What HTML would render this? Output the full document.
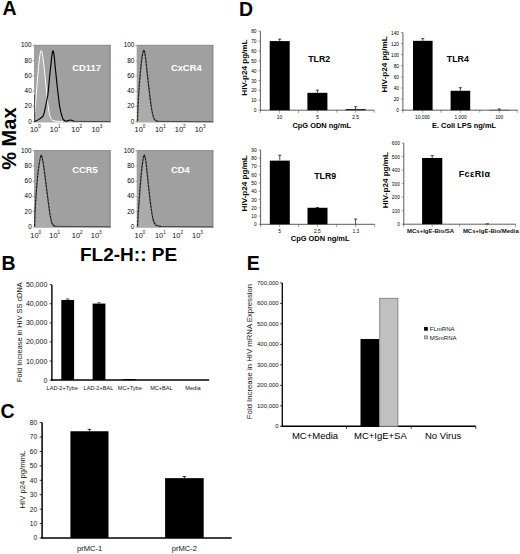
<!DOCTYPE html><html><head><meta charset="utf-8"><style>html,body{margin:0;padding:0;background:#fff;width:520px;height:554px;overflow:hidden}svg{display:block;font-family:"Liberation Sans",sans-serif}</style></head><body>
<svg width="520" height="554" viewBox="0 0 520 554">
<rect x="0" y="0" width="520" height="554" fill="#fff"/>
<text x="2.6" y="14.8" font-size="19.5" font-weight="bold" fill="#000">A</text>
<text x="1.6" y="269.8" font-size="19.5" font-weight="bold" fill="#000">B</text>
<text x="0.4" y="418" font-size="19.5" font-weight="bold" fill="#000">C</text>
<text x="239" y="15.6" font-size="19.5" font-weight="bold" fill="#000">D</text>
<text x="246.8" y="270.2" font-size="19.5" font-weight="bold" fill="#000">E</text>
<rect x="34" y="44.9" width="76.6" height="77.5" fill="#a0a0a0"/>
<line x1="34" y1="45.4" x2="110.6" y2="45.4" stroke="#8e8e8e" stroke-width="1"/>
<line x1="110" y1="44.9" x2="110" y2="122.4" stroke="#8a8a8a" stroke-width="1.2"/>
<text x="31.7" y="47.3" font-size="6.4" text-anchor="end" fill="#000">100</text>
<line x1="32.8" y1="45.4" x2="34" y2="45.4" stroke="#333" stroke-width="0.5"/>
<text x="31.7" y="62.58" font-size="6.4" text-anchor="end" fill="#000">80</text>
<line x1="32.8" y1="60.68" x2="34" y2="60.68" stroke="#333" stroke-width="0.5"/>
<text x="31.7" y="77.86" font-size="6.4" text-anchor="end" fill="#000">60</text>
<line x1="32.8" y1="75.96" x2="34" y2="75.96" stroke="#333" stroke-width="0.5"/>
<text x="31.7" y="93.14" font-size="6.4" text-anchor="end" fill="#000">40</text>
<line x1="32.8" y1="91.24" x2="34" y2="91.24" stroke="#333" stroke-width="0.5"/>
<text x="31.7" y="108.42" font-size="6.4" text-anchor="end" fill="#000">20</text>
<line x1="32.8" y1="106.52" x2="34" y2="106.52" stroke="#333" stroke-width="0.5"/>
<text x="31.7" y="123.7" font-size="6.4" text-anchor="end" fill="#000">0</text>
<line x1="32.8" y1="121.8" x2="34" y2="121.8" stroke="#333" stroke-width="0.5"/>
<text x="30" y="131.9" font-size="7.4" fill="#111">10<tspan font-size="4.6" dy="-3.6">0</tspan></text>
<text x="49.8" y="131.9" font-size="7.4" fill="#111">10<tspan font-size="4.6" dy="-3.6">1</tspan></text>
<text x="71.3" y="131.9" font-size="7.4" fill="#111">10<tspan font-size="4.6" dy="-3.6">2</tspan></text>
<text x="91.5" y="131.9" font-size="7.4" fill="#111">10<tspan font-size="4.6" dy="-3.6">3</tspan></text>
<text x="72.2" y="71.4" font-size="9.4" font-weight="bold" fill="#fff">CD117</text>
<rect x="136.7" y="44.9" width="76.6" height="77.5" fill="#a0a0a0"/>
<line x1="136.7" y1="45.4" x2="213.3" y2="45.4" stroke="#8e8e8e" stroke-width="1"/>
<line x1="212.7" y1="44.9" x2="212.7" y2="122.4" stroke="#8a8a8a" stroke-width="1.2"/>
<text x="134.4" y="47.3" font-size="6.4" text-anchor="end" fill="#000">100</text>
<line x1="135.5" y1="45.4" x2="136.7" y2="45.4" stroke="#333" stroke-width="0.5"/>
<text x="134.4" y="62.58" font-size="6.4" text-anchor="end" fill="#000">80</text>
<line x1="135.5" y1="60.68" x2="136.7" y2="60.68" stroke="#333" stroke-width="0.5"/>
<text x="134.4" y="77.86" font-size="6.4" text-anchor="end" fill="#000">60</text>
<line x1="135.5" y1="75.96" x2="136.7" y2="75.96" stroke="#333" stroke-width="0.5"/>
<text x="134.4" y="93.14" font-size="6.4" text-anchor="end" fill="#000">40</text>
<line x1="135.5" y1="91.24" x2="136.7" y2="91.24" stroke="#333" stroke-width="0.5"/>
<text x="134.4" y="108.42" font-size="6.4" text-anchor="end" fill="#000">20</text>
<line x1="135.5" y1="106.52" x2="136.7" y2="106.52" stroke="#333" stroke-width="0.5"/>
<text x="134.4" y="123.7" font-size="6.4" text-anchor="end" fill="#000">0</text>
<line x1="135.5" y1="121.8" x2="136.7" y2="121.8" stroke="#333" stroke-width="0.5"/>
<text x="134.6" y="131.9" font-size="7.4" fill="#111">10<tspan font-size="4.6" dy="-3.6">0</tspan></text>
<text x="154.9" y="131.9" font-size="7.4" fill="#111">10<tspan font-size="4.6" dy="-3.6">1</tspan></text>
<text x="174.8" y="131.9" font-size="7.4" fill="#111">10<tspan font-size="4.6" dy="-3.6">2</tspan></text>
<text x="194.7" y="131.9" font-size="7.4" fill="#111">10<tspan font-size="4.6" dy="-3.6">3</tspan></text>
<text x="170.9" y="71.4" font-size="9.4" font-weight="bold" fill="#fff">CxCR4</text>
<rect x="34" y="150.2" width="76.6" height="77.5" fill="#a0a0a0"/>
<line x1="34" y1="150.7" x2="110.6" y2="150.7" stroke="#8e8e8e" stroke-width="1"/>
<line x1="110" y1="150.2" x2="110" y2="227.7" stroke="#8a8a8a" stroke-width="1.2"/>
<text x="31.7" y="152.6" font-size="6.4" text-anchor="end" fill="#000">100</text>
<line x1="32.8" y1="150.7" x2="34" y2="150.7" stroke="#333" stroke-width="0.5"/>
<text x="31.7" y="167.88" font-size="6.4" text-anchor="end" fill="#000">80</text>
<line x1="32.8" y1="165.98" x2="34" y2="165.98" stroke="#333" stroke-width="0.5"/>
<text x="31.7" y="183.16" font-size="6.4" text-anchor="end" fill="#000">60</text>
<line x1="32.8" y1="181.26" x2="34" y2="181.26" stroke="#333" stroke-width="0.5"/>
<text x="31.7" y="198.44" font-size="6.4" text-anchor="end" fill="#000">40</text>
<line x1="32.8" y1="196.54" x2="34" y2="196.54" stroke="#333" stroke-width="0.5"/>
<text x="31.7" y="213.72" font-size="6.4" text-anchor="end" fill="#000">20</text>
<line x1="32.8" y1="211.82" x2="34" y2="211.82" stroke="#333" stroke-width="0.5"/>
<text x="31.7" y="229" font-size="6.4" text-anchor="end" fill="#000">0</text>
<line x1="32.8" y1="227.1" x2="34" y2="227.1" stroke="#333" stroke-width="0.5"/>
<text x="30.3" y="237.8" font-size="7.4" fill="#111">10<tspan font-size="4.6" dy="-3.6">0</tspan></text>
<text x="49.3" y="237.8" font-size="7.4" fill="#111">10<tspan font-size="4.6" dy="-3.6">1</tspan></text>
<text x="71.8" y="237.8" font-size="7.4" fill="#111">10<tspan font-size="4.6" dy="-3.6">2</tspan></text>
<text x="90.8" y="237.8" font-size="7.4" fill="#111">10<tspan font-size="4.6" dy="-3.6">3</tspan></text>
<text x="72.2" y="173.1" font-size="9.4" font-weight="bold" fill="#fff">CCR5</text>
<rect x="136.7" y="150.2" width="76.6" height="77.5" fill="#a0a0a0"/>
<line x1="136.7" y1="150.7" x2="213.3" y2="150.7" stroke="#8e8e8e" stroke-width="1"/>
<line x1="212.7" y1="150.2" x2="212.7" y2="227.7" stroke="#8a8a8a" stroke-width="1.2"/>
<text x="134.4" y="152.6" font-size="6.4" text-anchor="end" fill="#000">100</text>
<line x1="135.5" y1="150.7" x2="136.7" y2="150.7" stroke="#333" stroke-width="0.5"/>
<text x="134.4" y="167.88" font-size="6.4" text-anchor="end" fill="#000">80</text>
<line x1="135.5" y1="165.98" x2="136.7" y2="165.98" stroke="#333" stroke-width="0.5"/>
<text x="134.4" y="183.16" font-size="6.4" text-anchor="end" fill="#000">60</text>
<line x1="135.5" y1="181.26" x2="136.7" y2="181.26" stroke="#333" stroke-width="0.5"/>
<text x="134.4" y="198.44" font-size="6.4" text-anchor="end" fill="#000">40</text>
<line x1="135.5" y1="196.54" x2="136.7" y2="196.54" stroke="#333" stroke-width="0.5"/>
<text x="134.4" y="213.72" font-size="6.4" text-anchor="end" fill="#000">20</text>
<line x1="135.5" y1="211.82" x2="136.7" y2="211.82" stroke="#333" stroke-width="0.5"/>
<text x="134.4" y="229" font-size="6.4" text-anchor="end" fill="#000">0</text>
<line x1="135.5" y1="227.1" x2="136.7" y2="227.1" stroke="#333" stroke-width="0.5"/>
<text x="134.6" y="237.8" font-size="7.4" fill="#111">10<tspan font-size="4.6" dy="-3.6">0</tspan></text>
<text x="154.9" y="237.8" font-size="7.4" fill="#111">10<tspan font-size="4.6" dy="-3.6">1</tspan></text>
<text x="172.2" y="237.8" font-size="7.4" fill="#111">10<tspan font-size="4.6" dy="-3.6">2</tspan></text>
<text x="192.1" y="237.8" font-size="7.4" fill="#111">10<tspan font-size="4.6" dy="-3.6">3</tspan></text>
<text x="170.9" y="172.6" font-size="9.4" font-weight="bold" fill="#fff">CD4</text>
<path d="M137.4 121.8C137.48 119.83 137.72 114.13 137.9 110C138.08 105.87 138.25 101.33 138.5 97C138.75 92.67 139.07 88.33 139.4 84C139.73 79.67 140.12 75 140.5 71C140.88 67 141.32 62.92 141.7 60C142.08 57.08 142.52 55 142.8 53.5C143.08 52 143.22 51.55 143.4 51C143.58 50.45 143.73 50.17 143.9 50.2C144.07 50.23 144.2 50.4 144.4 51.2C144.6 52 144.83 53.2 145.1 55C145.37 56.8 145.67 59.17 146 62C146.33 64.83 146.72 68.5 147.1 72C147.48 75.5 147.88 79.33 148.3 83C148.72 86.67 149.15 90.33 149.6 94C150.05 97.67 150.52 101.75 151 105C151.48 108.25 152 111.2 152.5 113.5C153 115.8 153.45 117.58 154 118.8C154.55 120.02 155.05 120.37 155.8 120.8C156.55 121.23 158.05 121.3 158.5 121.4 L158.5 122.2 L137.4 122.2 Z" fill="#b6b6b6" opacity="0.5"/>
<path d="M34.6 226.9C34.67 224.75 34.82 218.32 35 214C35.18 209.68 35.43 205.33 35.7 201C35.97 196.67 36.27 192.17 36.6 188C36.93 183.83 37.32 179.67 37.7 176C38.08 172.33 38.5 168.83 38.9 166C39.3 163.17 39.78 160.63 40.1 159C40.42 157.37 40.6 156.87 40.8 156.2C41 155.53 41.13 154.97 41.3 155C41.47 155.03 41.58 155.57 41.8 156.4C42.02 157.23 42.27 158.23 42.6 160C42.93 161.77 43.38 164.17 43.8 167C44.22 169.83 44.65 173.5 45.1 177C45.55 180.5 46.03 184.33 46.5 188C46.97 191.67 47.45 195.5 47.9 199C48.35 202.5 48.77 205.92 49.2 209C49.63 212.08 50.07 215.2 50.5 217.5C50.93 219.8 51.32 221.47 51.8 222.8C52.28 224.13 52.7 224.9 53.4 225.5C54.1 226.1 55.57 226.25 56 226.4 L56 227.4 L34.6 227.4 Z" fill="#b6b6b6" opacity="0.5"/>
<path d="M137.5 226.9C137.62 224.75 137.92 218.48 138.2 214C138.48 209.52 138.85 204.67 139.2 200C139.55 195.33 139.95 190.33 140.3 186C140.65 181.67 140.97 177.5 141.3 174C141.63 170.5 141.98 167.5 142.3 165C142.62 162.5 142.95 160.5 143.2 159C143.45 157.5 143.62 156.7 143.8 156C143.98 155.3 144.13 154.77 144.3 154.8C144.47 154.83 144.6 155.42 144.8 156.2C145 156.98 145.22 157.7 145.5 159.5C145.78 161.3 146.15 164 146.5 167C146.85 170 147.2 173.67 147.6 177.5C148 181.33 148.45 185.92 148.9 190C149.35 194.08 149.83 198.33 150.3 202C150.77 205.67 151.23 209.08 151.7 212C152.17 214.92 152.6 217.57 153.1 219.5C153.6 221.43 154.05 222.55 154.7 223.6C155.35 224.65 155.95 225.32 157 225.8C158.05 226.28 160.33 226.38 161 226.5 L161 227.4 L137.5 227.4 Z" fill="#b6b6b6" opacity="0.5"/>
<path d="M34.8 112C35 109.67 35.57 103.33 36 98C36.43 92.67 36.93 85.67 37.4 80C37.87 74.33 38.33 68.42 38.8 64C39.27 59.58 39.8 55.73 40.2 53.5C40.6 51.27 40.87 50.68 41.2 50.6C41.53 50.52 41.83 51.27 42.2 53C42.57 54.73 42.98 57.67 43.4 61C43.82 64.33 44.27 68.83 44.7 73C45.13 77.17 45.57 81.67 46 86C46.43 90.33 46.87 95.17 47.3 99C47.73 102.83 48.15 106.17 48.6 109C49.05 111.83 49.47 114.23 50 116C50.53 117.77 51.13 118.8 51.8 119.6C52.47 120.4 52.97 120.52 54 120.8C55.03 121.08 56.5 121.17 58 121.3C59.5 121.43 62.17 121.55 63 121.6 L34.4 122 Z" fill="#b8b8b8" opacity="0.55"/>
<path d="M34.8 112C35 109.67 35.57 103.33 36 98C36.43 92.67 36.93 85.67 37.4 80C37.87 74.33 38.33 68.42 38.8 64C39.27 59.58 39.8 55.73 40.2 53.5C40.6 51.27 40.87 50.68 41.2 50.6C41.53 50.52 41.83 51.27 42.2 53C42.57 54.73 42.98 57.67 43.4 61C43.82 64.33 44.27 68.83 44.7 73C45.13 77.17 45.57 81.67 46 86C46.43 90.33 46.87 95.17 47.3 99C47.73 102.83 48.15 106.17 48.6 109C49.05 111.83 49.47 114.23 50 116C50.53 117.77 51.13 118.8 51.8 119.6C52.47 120.4 52.97 120.52 54 120.8C55.03 121.08 56.5 121.17 58 121.3C59.5 121.43 62.17 121.55 63 121.6" fill="none" stroke="#fff" stroke-width="1.0" stroke-linejoin="round"/>
<line x1="34.6" y1="95" x2="34.6" y2="121.6" stroke="#333" stroke-width="0.8"/>
<path d="M34.6 121.6C34.92 121.47 35.73 121.22 36.5 120.8C37.27 120.38 38.37 119.65 39.2 119.1C40.03 118.55 40.77 118.22 41.5 117.5C42.23 116.78 42.9 116.72 43.6 114.8C44.3 112.88 45.12 108.63 45.7 106C46.28 103.37 46.73 100.92 47.1 99C47.47 97.08 47.63 96.58 47.9 94.5C48.17 92.42 48.47 88.9 48.7 86.5C48.93 84.1 49.07 82.52 49.3 80.1C49.53 77.68 49.85 74.4 50.1 72C50.35 69.6 50.53 68.2 50.8 65.7C51.07 63.2 51.43 59.23 51.7 57C51.97 54.77 52.2 53.32 52.4 52.3C52.6 51.28 52.72 50.95 52.9 50.9C53.08 50.85 53.27 50.98 53.5 52C53.73 53.02 54.03 54.72 54.3 57C54.57 59.28 54.78 62.45 55.1 65.7C55.42 68.95 55.83 72.9 56.2 76.5C56.57 80.1 56.93 83.97 57.3 87.3C57.67 90.63 58.05 93.62 58.4 96.5C58.75 99.38 59.05 102.27 59.4 104.6C59.75 106.93 60.13 108.8 60.5 110.5C60.87 112.2 61.18 113.37 61.6 114.8C62.02 116.23 62.47 118.12 63 119.1C63.53 120.08 64.18 120.37 64.8 120.7C65.42 121.03 66.08 121.12 66.7 121.1C67.32 121.08 67.9 120.78 68.5 120.6C69.1 120.42 69.72 120.02 70.3 120C70.88 119.98 71.38 120.3 72 120.5C72.62 120.7 73.67 121.08 74 121.2" fill="none" stroke="#000" stroke-width="1.15" stroke-linejoin="round"/>
<line x1="74" y1="121.4" x2="110.2" y2="121.6" stroke="#3a3a3a" stroke-width="0.9"/>
<path d="M137.4 121.8C137.48 119.83 137.72 114.13 137.9 110C138.08 105.87 138.25 101.33 138.5 97C138.75 92.67 139.07 88.33 139.4 84C139.73 79.67 140.12 75 140.5 71C140.88 67 141.32 62.92 141.7 60C142.08 57.08 142.52 55 142.8 53.5C143.08 52 143.22 51.55 143.4 51C143.58 50.45 143.73 50.17 143.9 50.2C144.07 50.23 144.2 50.4 144.4 51.2C144.6 52 144.83 53.2 145.1 55C145.37 56.8 145.67 59.17 146 62C146.33 64.83 146.72 68.5 147.1 72C147.48 75.5 147.88 79.33 148.3 83C148.72 86.67 149.15 90.33 149.6 94C150.05 97.67 150.52 101.75 151 105C151.48 108.25 152 111.2 152.5 113.5C153 115.8 153.45 117.58 154 118.8C154.55 120.02 155.05 120.37 155.8 120.8C156.55 121.23 158.05 121.3 158.5 121.4" fill="none" stroke="#111" stroke-width="1.15" stroke-linejoin="round"/>
<path d="M137.4 121.8C137.48 119.83 137.72 114.13 137.9 110C138.08 105.87 138.25 101.33 138.5 97C138.75 92.67 139.07 88.33 139.4 84C139.73 79.67 140.12 75 140.5 71C140.88 67 141.32 62.92 141.7 60C142.08 57.08 142.52 55 142.8 53.5C143.08 52 143.22 51.55 143.4 51C143.58 50.45 143.73 50.17 143.9 50.2C144.07 50.23 144.2 50.4 144.4 51.2C144.6 52 144.83 53.2 145.1 55C145.37 56.8 145.67 59.17 146 62C146.33 64.83 146.72 68.5 147.1 72C147.48 75.5 147.88 79.33 148.3 83C148.72 86.67 149.15 90.33 149.6 94C150.05 97.67 150.52 101.75 151 105C151.48 108.25 152 111.2 152.5 113.5C153 115.8 153.45 117.58 154 118.8C154.55 120.02 155.05 120.37 155.8 120.8C156.55 121.23 158.05 121.3 158.5 121.4" fill="none" stroke="#ddd" stroke-width="0.45" stroke-dasharray="1.2 2.2" stroke-linejoin="round"/>
<line x1="158.5" y1="121.4" x2="212.8" y2="121.8" stroke="#3a3a3a" stroke-width="0.9"/>
<path d="M34.6 226.9C34.67 224.75 34.82 218.32 35 214C35.18 209.68 35.43 205.33 35.7 201C35.97 196.67 36.27 192.17 36.6 188C36.93 183.83 37.32 179.67 37.7 176C38.08 172.33 38.5 168.83 38.9 166C39.3 163.17 39.78 160.63 40.1 159C40.42 157.37 40.6 156.87 40.8 156.2C41 155.53 41.13 154.97 41.3 155C41.47 155.03 41.58 155.57 41.8 156.4C42.02 157.23 42.27 158.23 42.6 160C42.93 161.77 43.38 164.17 43.8 167C44.22 169.83 44.65 173.5 45.1 177C45.55 180.5 46.03 184.33 46.5 188C46.97 191.67 47.45 195.5 47.9 199C48.35 202.5 48.77 205.92 49.2 209C49.63 212.08 50.07 215.2 50.5 217.5C50.93 219.8 51.32 221.47 51.8 222.8C52.28 224.13 52.7 224.9 53.4 225.5C54.1 226.1 55.57 226.25 56 226.4" fill="none" stroke="#111" stroke-width="1.15" stroke-linejoin="round"/>
<path d="M34.6 226.9C34.67 224.75 34.82 218.32 35 214C35.18 209.68 35.43 205.33 35.7 201C35.97 196.67 36.27 192.17 36.6 188C36.93 183.83 37.32 179.67 37.7 176C38.08 172.33 38.5 168.83 38.9 166C39.3 163.17 39.78 160.63 40.1 159C40.42 157.37 40.6 156.87 40.8 156.2C41 155.53 41.13 154.97 41.3 155C41.47 155.03 41.58 155.57 41.8 156.4C42.02 157.23 42.27 158.23 42.6 160C42.93 161.77 43.38 164.17 43.8 167C44.22 169.83 44.65 173.5 45.1 177C45.55 180.5 46.03 184.33 46.5 188C46.97 191.67 47.45 195.5 47.9 199C48.35 202.5 48.77 205.92 49.2 209C49.63 212.08 50.07 215.2 50.5 217.5C50.93 219.8 51.32 221.47 51.8 222.8C52.28 224.13 52.7 224.9 53.4 225.5C54.1 226.1 55.57 226.25 56 226.4" fill="none" stroke="#ddd" stroke-width="0.45" stroke-dasharray="1.2 2.2" stroke-linejoin="round"/>
<line x1="56" y1="226.4" x2="110.2" y2="226.8" stroke="#3a3a3a" stroke-width="0.9"/>
<path d="M137.5 226.9C137.62 224.75 137.92 218.48 138.2 214C138.48 209.52 138.85 204.67 139.2 200C139.55 195.33 139.95 190.33 140.3 186C140.65 181.67 140.97 177.5 141.3 174C141.63 170.5 141.98 167.5 142.3 165C142.62 162.5 142.95 160.5 143.2 159C143.45 157.5 143.62 156.7 143.8 156C143.98 155.3 144.13 154.77 144.3 154.8C144.47 154.83 144.6 155.42 144.8 156.2C145 156.98 145.22 157.7 145.5 159.5C145.78 161.3 146.15 164 146.5 167C146.85 170 147.2 173.67 147.6 177.5C148 181.33 148.45 185.92 148.9 190C149.35 194.08 149.83 198.33 150.3 202C150.77 205.67 151.23 209.08 151.7 212C152.17 214.92 152.6 217.57 153.1 219.5C153.6 221.43 154.05 222.55 154.7 223.6C155.35 224.65 155.95 225.32 157 225.8C158.05 226.28 160.33 226.38 161 226.5" fill="none" stroke="#111" stroke-width="1.15" stroke-linejoin="round"/>
<path d="M137.5 226.9C137.62 224.75 137.92 218.48 138.2 214C138.48 209.52 138.85 204.67 139.2 200C139.55 195.33 139.95 190.33 140.3 186C140.65 181.67 140.97 177.5 141.3 174C141.63 170.5 141.98 167.5 142.3 165C142.62 162.5 142.95 160.5 143.2 159C143.45 157.5 143.62 156.7 143.8 156C143.98 155.3 144.13 154.77 144.3 154.8C144.47 154.83 144.6 155.42 144.8 156.2C145 156.98 145.22 157.7 145.5 159.5C145.78 161.3 146.15 164 146.5 167C146.85 170 147.2 173.67 147.6 177.5C148 181.33 148.45 185.92 148.9 190C149.35 194.08 149.83 198.33 150.3 202C150.77 205.67 151.23 209.08 151.7 212C152.17 214.92 152.6 217.57 153.1 219.5C153.6 221.43 154.05 222.55 154.7 223.6C155.35 224.65 155.95 225.32 157 225.8C158.05 226.28 160.33 226.38 161 226.5" fill="none" stroke="#ddd" stroke-width="0.45" stroke-dasharray="1.2 2.2" stroke-linejoin="round"/>
<line x1="161" y1="226.5" x2="212.8" y2="226.9" stroke="#3a3a3a" stroke-width="0.9"/>
<text transform="translate(16.4 138.6) rotate(-90)" font-size="20" font-weight="bold" text-anchor="middle">% Max</text>
<text x="80" y="261.3" font-size="19" font-weight="bold" fill="#000">FL2-H:: PE</text>
<line x1="260.4" y1="31.2" x2="260.4" y2="110.7" stroke="#333" stroke-width="0.8"/>
<line x1="260" y1="110.2" x2="374.3" y2="110.2" stroke="#333" stroke-width="0.8"/>
<line x1="258.4" y1="110.2" x2="260.4" y2="110.2" stroke="#444" stroke-width="0.5"/>
<text transform="translate(256.5 112.22) scale(0.86 1)" font-size="5.6" text-anchor="end" fill="#000">0</text>
<line x1="258.4" y1="100.33" x2="260.4" y2="100.33" stroke="#444" stroke-width="0.5"/>
<text transform="translate(256.5 102.34) scale(0.86 1)" font-size="5.6" text-anchor="end" fill="#000">10</text>
<line x1="258.4" y1="90.45" x2="260.4" y2="90.45" stroke="#444" stroke-width="0.5"/>
<text transform="translate(256.5 92.47) scale(0.86 1)" font-size="5.6" text-anchor="end" fill="#000">20</text>
<line x1="258.4" y1="80.58" x2="260.4" y2="80.58" stroke="#444" stroke-width="0.5"/>
<text transform="translate(256.5 82.59) scale(0.86 1)" font-size="5.6" text-anchor="end" fill="#000">30</text>
<line x1="258.4" y1="70.7" x2="260.4" y2="70.7" stroke="#444" stroke-width="0.5"/>
<text transform="translate(256.5 72.72) scale(0.86 1)" font-size="5.6" text-anchor="end" fill="#000">40</text>
<line x1="258.4" y1="60.83" x2="260.4" y2="60.83" stroke="#444" stroke-width="0.5"/>
<text transform="translate(256.5 62.84) scale(0.86 1)" font-size="5.6" text-anchor="end" fill="#000">50</text>
<line x1="258.4" y1="50.95" x2="260.4" y2="50.95" stroke="#444" stroke-width="0.5"/>
<text transform="translate(256.5 52.97) scale(0.86 1)" font-size="5.6" text-anchor="end" fill="#000">60</text>
<line x1="258.4" y1="41.08" x2="260.4" y2="41.08" stroke="#444" stroke-width="0.5"/>
<text transform="translate(256.5 43.09) scale(0.86 1)" font-size="5.6" text-anchor="end" fill="#000">70</text>
<line x1="258.4" y1="31.2" x2="260.4" y2="31.2" stroke="#444" stroke-width="0.5"/>
<text transform="translate(256.5 33.22) scale(0.86 1)" font-size="5.6" text-anchor="end" fill="#000">80</text>
<line x1="260.4" y1="110.2" x2="260.4" y2="112.8" stroke="#444" stroke-width="0.5"/>
<line x1="298.5" y1="110.2" x2="298.5" y2="112.8" stroke="#444" stroke-width="0.5"/>
<line x1="336.8" y1="110.2" x2="336.8" y2="112.8" stroke="#444" stroke-width="0.5"/>
<line x1="374.3" y1="110.2" x2="374.3" y2="112.8" stroke="#444" stroke-width="0.5"/>
<line x1="279.5" y1="110.2" x2="279.5" y2="112.8" stroke="#444" stroke-width="0.5"/>
<line x1="317.5" y1="110.2" x2="317.5" y2="112.8" stroke="#444" stroke-width="0.5"/>
<line x1="355.6" y1="110.2" x2="355.6" y2="112.8" stroke="#444" stroke-width="0.5"/>
<rect x="269.7" y="41.08" width="20" height="69.12" fill="#000"/>
<line x1="279.7" y1="39.1" x2="279.7" y2="41.08" stroke="#000" stroke-width="0.7"/>
<line x1="278.1" y1="39.1" x2="281.3" y2="39.1" stroke="#000" stroke-width="0.7"/>
<rect x="307.4" y="92.82" width="20" height="17.38" fill="#000"/>
<line x1="317.4" y1="90.15" x2="317.4" y2="92.82" stroke="#000" stroke-width="0.7"/>
<line x1="315.8" y1="90.15" x2="319" y2="90.15" stroke="#000" stroke-width="0.7"/>
<rect x="345.6" y="109.21" width="20" height="0.99" fill="#000"/>
<line x1="355.6" y1="106.74" x2="355.6" y2="109.21" stroke="#000" stroke-width="0.7"/>
<line x1="354" y1="106.74" x2="357.2" y2="106.74" stroke="#000" stroke-width="0.7"/>
<text transform="translate(279.4 118.6) scale(0.9 1)" font-size="5.4" text-anchor="middle" fill="#000">10</text>
<text transform="translate(317.6 118.6) scale(0.9 1)" font-size="5.4" text-anchor="middle" fill="#000">5</text>
<text transform="translate(355.6 118.6) scale(0.9 1)" font-size="5.4" text-anchor="middle" fill="#000">2.5</text>
<text x="308.2" y="62.2" font-size="8.8" font-weight="bold" fill="#000">TLR2</text>
<text x="292.4" y="127.8" font-size="7.45" font-weight="bold" fill="#000">CpG ODN ng/mL</text>
<text transform="translate(247.1 67.6) rotate(-90)" x="0" y="0" font-size="8.1" font-weight="bold" text-anchor="middle" fill="#000">HIV-p24 pg/mL</text>
<line x1="402.9" y1="32.5" x2="402.9" y2="110.7" stroke="#333" stroke-width="0.8"/>
<line x1="402.5" y1="110.2" x2="517.4" y2="110.2" stroke="#333" stroke-width="0.8"/>
<line x1="400.9" y1="110.2" x2="402.9" y2="110.2" stroke="#444" stroke-width="0.5"/>
<text transform="translate(399 112.22) scale(0.86 1)" font-size="5.6" text-anchor="end" fill="#000">0</text>
<line x1="400.9" y1="99.1" x2="402.9" y2="99.1" stroke="#444" stroke-width="0.5"/>
<text transform="translate(399 101.12) scale(0.86 1)" font-size="5.6" text-anchor="end" fill="#000">20</text>
<line x1="400.9" y1="88" x2="402.9" y2="88" stroke="#444" stroke-width="0.5"/>
<text transform="translate(399 90.02) scale(0.86 1)" font-size="5.6" text-anchor="end" fill="#000">40</text>
<line x1="400.9" y1="76.9" x2="402.9" y2="76.9" stroke="#444" stroke-width="0.5"/>
<text transform="translate(399 78.92) scale(0.86 1)" font-size="5.6" text-anchor="end" fill="#000">60</text>
<line x1="400.9" y1="65.8" x2="402.9" y2="65.8" stroke="#444" stroke-width="0.5"/>
<text transform="translate(399 67.82) scale(0.86 1)" font-size="5.6" text-anchor="end" fill="#000">80</text>
<line x1="400.9" y1="54.7" x2="402.9" y2="54.7" stroke="#444" stroke-width="0.5"/>
<text transform="translate(399 56.72) scale(0.86 1)" font-size="5.6" text-anchor="end" fill="#000">100</text>
<line x1="400.9" y1="43.6" x2="402.9" y2="43.6" stroke="#444" stroke-width="0.5"/>
<text transform="translate(399 45.62) scale(0.86 1)" font-size="5.6" text-anchor="end" fill="#000">120</text>
<line x1="400.9" y1="32.5" x2="402.9" y2="32.5" stroke="#444" stroke-width="0.5"/>
<text transform="translate(399 34.52) scale(0.86 1)" font-size="5.6" text-anchor="end" fill="#000">140</text>
<line x1="402.9" y1="110.2" x2="402.9" y2="112.8" stroke="#444" stroke-width="0.5"/>
<line x1="441" y1="110.2" x2="441" y2="112.8" stroke="#444" stroke-width="0.5"/>
<line x1="479.8" y1="110.2" x2="479.8" y2="112.8" stroke="#444" stroke-width="0.5"/>
<line x1="517.4" y1="110.2" x2="517.4" y2="112.8" stroke="#444" stroke-width="0.5"/>
<line x1="422.6" y1="110.2" x2="422.6" y2="112.8" stroke="#444" stroke-width="0.5"/>
<line x1="460.4" y1="110.2" x2="460.4" y2="112.8" stroke="#444" stroke-width="0.5"/>
<line x1="499.2" y1="110.2" x2="499.2" y2="112.8" stroke="#444" stroke-width="0.5"/>
<rect x="413" y="40.83" width="19.6" height="69.38" fill="#000"/>
<line x1="422.8" y1="38.6" x2="422.8" y2="40.83" stroke="#000" stroke-width="0.7"/>
<line x1="421.2" y1="38.6" x2="424.4" y2="38.6" stroke="#000" stroke-width="0.7"/>
<rect x="450.6" y="90.78" width="19.6" height="19.42" fill="#000"/>
<line x1="460.4" y1="87.72" x2="460.4" y2="90.78" stroke="#000" stroke-width="0.7"/>
<line x1="458.8" y1="87.72" x2="462" y2="87.72" stroke="#000" stroke-width="0.7"/>
<rect x="489.4" y="109.87" width="19.6" height="0.33" fill="#000"/>
<line x1="499.2" y1="108.98" x2="499.2" y2="109.87" stroke="#000" stroke-width="0.7"/>
<line x1="497.6" y1="108.98" x2="500.8" y2="108.98" stroke="#000" stroke-width="0.7"/>
<text transform="translate(422.4 118.6) scale(0.9 1)" font-size="5.4" text-anchor="middle" fill="#000">10,000</text>
<text transform="translate(460.6 118.6) scale(0.9 1)" font-size="5.4" text-anchor="middle" fill="#000">1,000</text>
<text transform="translate(499.2 118.6) scale(0.9 1)" font-size="5.4" text-anchor="middle" fill="#000">100</text>
<text x="446.8" y="62.2" font-size="8.8" font-weight="bold" fill="#000">TLR4</text>
<text x="432" y="127.8" font-size="7.45" font-weight="bold" fill="#000">E. Coli LPS ng/mL</text>
<text transform="translate(387.4 64.4) rotate(-90)" x="0" y="0" font-size="8.1" font-weight="bold" text-anchor="middle" fill="#000">HIV-p24 pg/mL</text>
<line x1="260.6" y1="149.9" x2="260.6" y2="224.8" stroke="#333" stroke-width="0.8"/>
<line x1="260.2" y1="224.3" x2="374.8" y2="224.3" stroke="#333" stroke-width="0.8"/>
<line x1="258.6" y1="224.3" x2="260.6" y2="224.3" stroke="#444" stroke-width="0.5"/>
<text transform="translate(256.7 226.32) scale(0.86 1)" font-size="5.6" text-anchor="end" fill="#000">0</text>
<line x1="258.6" y1="216.03" x2="260.6" y2="216.03" stroke="#444" stroke-width="0.5"/>
<text transform="translate(256.7 218.05) scale(0.86 1)" font-size="5.6" text-anchor="end" fill="#000">10</text>
<line x1="258.6" y1="207.77" x2="260.6" y2="207.77" stroke="#444" stroke-width="0.5"/>
<text transform="translate(256.7 209.78) scale(0.86 1)" font-size="5.6" text-anchor="end" fill="#000">20</text>
<line x1="258.6" y1="199.5" x2="260.6" y2="199.5" stroke="#444" stroke-width="0.5"/>
<text transform="translate(256.7 201.52) scale(0.86 1)" font-size="5.6" text-anchor="end" fill="#000">30</text>
<line x1="258.6" y1="191.23" x2="260.6" y2="191.23" stroke="#444" stroke-width="0.5"/>
<text transform="translate(256.7 193.25) scale(0.86 1)" font-size="5.6" text-anchor="end" fill="#000">40</text>
<line x1="258.6" y1="182.97" x2="260.6" y2="182.97" stroke="#444" stroke-width="0.5"/>
<text transform="translate(256.7 184.98) scale(0.86 1)" font-size="5.6" text-anchor="end" fill="#000">50</text>
<line x1="258.6" y1="174.7" x2="260.6" y2="174.7" stroke="#444" stroke-width="0.5"/>
<text transform="translate(256.7 176.72) scale(0.86 1)" font-size="5.6" text-anchor="end" fill="#000">60</text>
<line x1="258.6" y1="166.43" x2="260.6" y2="166.43" stroke="#444" stroke-width="0.5"/>
<text transform="translate(256.7 168.45) scale(0.86 1)" font-size="5.6" text-anchor="end" fill="#000">70</text>
<line x1="258.6" y1="158.17" x2="260.6" y2="158.17" stroke="#444" stroke-width="0.5"/>
<text transform="translate(256.7 160.18) scale(0.86 1)" font-size="5.6" text-anchor="end" fill="#000">80</text>
<line x1="258.6" y1="149.9" x2="260.6" y2="149.9" stroke="#444" stroke-width="0.5"/>
<text transform="translate(256.7 151.92) scale(0.86 1)" font-size="5.6" text-anchor="end" fill="#000">90</text>
<line x1="260.6" y1="224.3" x2="260.6" y2="226.9" stroke="#444" stroke-width="0.5"/>
<line x1="298.6" y1="224.3" x2="298.6" y2="226.9" stroke="#444" stroke-width="0.5"/>
<line x1="336.6" y1="224.3" x2="336.6" y2="226.9" stroke="#444" stroke-width="0.5"/>
<line x1="374.8" y1="224.3" x2="374.8" y2="226.9" stroke="#444" stroke-width="0.5"/>
<line x1="279.5" y1="224.3" x2="279.5" y2="226.9" stroke="#444" stroke-width="0.5"/>
<line x1="317.5" y1="224.3" x2="317.5" y2="226.9" stroke="#444" stroke-width="0.5"/>
<line x1="355.6" y1="224.3" x2="355.6" y2="226.9" stroke="#444" stroke-width="0.5"/>
<rect x="269.8" y="160.65" width="20" height="63.65" fill="#000"/>
<line x1="279.8" y1="155.27" x2="279.8" y2="160.65" stroke="#000" stroke-width="0.7"/>
<line x1="278.2" y1="155.27" x2="281.4" y2="155.27" stroke="#000" stroke-width="0.7"/>
<rect x="307.5" y="207.77" width="20" height="16.53" fill="#000"/>
<line x1="317.5" y1="207.52" x2="317.5" y2="207.77" stroke="#000" stroke-width="0.7"/>
<line x1="315.9" y1="207.52" x2="319.1" y2="207.52" stroke="#000" stroke-width="0.7"/>
<line x1="355.6" y1="219.09" x2="355.6" y2="224.3" stroke="#000" stroke-width="0.7"/>
<line x1="354" y1="219.09" x2="357.2" y2="219.09" stroke="#000" stroke-width="0.7"/>
<text transform="translate(279.7 232.6) scale(0.9 1)" font-size="5.4" text-anchor="middle" fill="#000">5</text>
<text transform="translate(317.4 232.6) scale(0.9 1)" font-size="5.4" text-anchor="middle" fill="#000">2.5</text>
<text transform="translate(355.8 232.6) scale(0.9 1)" font-size="5.4" text-anchor="middle" fill="#000">1.3</text>
<text x="314.2" y="178.9" font-size="8.8" font-weight="bold" fill="#000">TLR9</text>
<text x="290.8" y="240.9" font-size="7.45" font-weight="bold" fill="#000">CpG ODN ng/mL</text>
<text transform="translate(246.9 183.3) rotate(-90)" x="0" y="0" font-size="8.1" font-weight="bold" text-anchor="middle" fill="#000">HIV-p24 pg/mL</text>
<line x1="403.8" y1="143.1" x2="403.8" y2="224.7" stroke="#333" stroke-width="0.8"/>
<line x1="403.4" y1="224.2" x2="515.6" y2="224.2" stroke="#333" stroke-width="0.8"/>
<line x1="401.8" y1="224.2" x2="403.8" y2="224.2" stroke="#444" stroke-width="0.5"/>
<text transform="translate(399.9 226.22) scale(0.86 1)" font-size="5.6" text-anchor="end" fill="#000">0</text>
<line x1="401.8" y1="210.68" x2="403.8" y2="210.68" stroke="#444" stroke-width="0.5"/>
<text transform="translate(399.9 212.7) scale(0.86 1)" font-size="5.6" text-anchor="end" fill="#000">100</text>
<line x1="401.8" y1="197.17" x2="403.8" y2="197.17" stroke="#444" stroke-width="0.5"/>
<text transform="translate(399.9 199.18) scale(0.86 1)" font-size="5.6" text-anchor="end" fill="#000">200</text>
<line x1="401.8" y1="183.65" x2="403.8" y2="183.65" stroke="#444" stroke-width="0.5"/>
<text transform="translate(399.9 185.67) scale(0.86 1)" font-size="5.6" text-anchor="end" fill="#000">300</text>
<line x1="401.8" y1="170.13" x2="403.8" y2="170.13" stroke="#444" stroke-width="0.5"/>
<text transform="translate(399.9 172.15) scale(0.86 1)" font-size="5.6" text-anchor="end" fill="#000">400</text>
<line x1="401.8" y1="156.62" x2="403.8" y2="156.62" stroke="#444" stroke-width="0.5"/>
<text transform="translate(399.9 158.63) scale(0.86 1)" font-size="5.6" text-anchor="end" fill="#000">500</text>
<line x1="401.8" y1="143.1" x2="403.8" y2="143.1" stroke="#444" stroke-width="0.5"/>
<text transform="translate(399.9 145.12) scale(0.86 1)" font-size="5.6" text-anchor="end" fill="#000">600</text>
<line x1="403.8" y1="224.2" x2="403.8" y2="226.8" stroke="#444" stroke-width="0.5"/>
<line x1="459.6" y1="224.2" x2="459.6" y2="226.8" stroke="#444" stroke-width="0.5"/>
<line x1="515.6" y1="224.2" x2="515.6" y2="226.8" stroke="#444" stroke-width="0.5"/>
<line x1="432.2" y1="224.2" x2="432.2" y2="226.8" stroke="#444" stroke-width="0.5"/>
<rect x="422.1" y="157.97" width="20.2" height="66.23" fill="#000"/>
<line x1="432.2" y1="155.67" x2="432.2" y2="157.97" stroke="#000" stroke-width="0.7"/>
<line x1="430.6" y1="155.67" x2="433.8" y2="155.67" stroke="#000" stroke-width="0.7"/>
<line x1="487.3" y1="223.86" x2="487.3" y2="224.2" stroke="#000" stroke-width="0.7"/>
<line x1="485.7" y1="223.86" x2="488.9" y2="223.86" stroke="#000" stroke-width="0.7"/>
<text x="430.6" y="232.6" font-size="6" font-weight="bold" text-anchor="middle" fill="#111">MCs+IgE-Bio/SA</text>
<text x="490.8" y="232.6" font-size="6" font-weight="bold" text-anchor="middle" fill="#111">MCs+IgE-Bio/Media</text>
<text x="458.7" y="176.8" font-size="9" font-weight="bold" fill="#000" letter-spacing="0.4">Fc&#949;RI&#945;</text>
<text transform="translate(387.7 180.2) rotate(-90)" x="0" y="0" font-size="8.1" font-weight="bold" text-anchor="middle" fill="#000">HIV-p24 pg/mL</text>
<line x1="51.9" y1="284.7" x2="51.9" y2="380.7" stroke="#000" stroke-width="1.4"/>
<line x1="51.3" y1="380.1" x2="209.2" y2="380.1" stroke="#000" stroke-width="1.5"/>
<line x1="49.7" y1="380.1" x2="51.9" y2="380.1" stroke="#000" stroke-width="0.8"/>
<text x="47.3" y="382.6" font-size="7" text-anchor="end" fill="#111">0</text>
<line x1="49.7" y1="361.02" x2="51.9" y2="361.02" stroke="#000" stroke-width="0.8"/>
<text x="47.3" y="363.52" font-size="7" text-anchor="end" fill="#111">10,000</text>
<line x1="49.7" y1="341.94" x2="51.9" y2="341.94" stroke="#000" stroke-width="0.8"/>
<text x="47.3" y="344.44" font-size="7" text-anchor="end" fill="#111">20,000</text>
<line x1="49.7" y1="322.86" x2="51.9" y2="322.86" stroke="#000" stroke-width="0.8"/>
<text x="47.3" y="325.36" font-size="7" text-anchor="end" fill="#111">30,000</text>
<line x1="49.7" y1="303.78" x2="51.9" y2="303.78" stroke="#000" stroke-width="0.8"/>
<text x="47.3" y="306.28" font-size="7" text-anchor="end" fill="#111">40,000</text>
<line x1="49.7" y1="284.7" x2="51.9" y2="284.7" stroke="#000" stroke-width="0.8"/>
<text x="47.3" y="287.2" font-size="7" text-anchor="end" fill="#111">50,000</text>
<rect x="61.3" y="299.96" width="12.8" height="80.14" fill="#000"/>
<line x1="66.1" y1="299.01" x2="69.3" y2="299.01" stroke="#000" stroke-width="0.8"/>
<rect x="92.6" y="303.59" width="12.8" height="76.51" fill="#000"/>
<line x1="97.4" y1="302.83" x2="100.6" y2="302.83" stroke="#000" stroke-width="0.8"/>
<rect x="122.8" y="379.05" width="12.8" height="1.05" fill="#000"/>
<text x="62.2" y="390.3" font-size="5.6" text-anchor="middle" fill="#111">LAD-2+Tybe</text>
<text x="98.4" y="390.3" font-size="5.6" text-anchor="middle" fill="#111">LAD-2+BAL</text>
<text x="129.8" y="390.3" font-size="5.6" text-anchor="middle" fill="#111">MC+Tybe</text>
<text x="161.4" y="390.3" font-size="5.6" text-anchor="middle" fill="#111">MC+BAL</text>
<text x="192.9" y="390.3" font-size="5.6" text-anchor="middle" fill="#111">Media</text>
<text transform="translate(21.9 332.2) rotate(-90)" x="0" y="0" font-size="7.35" text-anchor="middle" fill="#111">Fold Increase in HIV SS cDNA</text>
<line x1="42.1" y1="422.6" x2="42.1" y2="538.6" stroke="#000" stroke-width="1.5"/>
<line x1="41.4" y1="538" x2="231.7" y2="538" stroke="#000" stroke-width="1.5"/>
<line x1="39.7" y1="538" x2="42.1" y2="538" stroke="#000" stroke-width="0.8"/>
<text x="37.1" y="540.4" font-size="6.6" text-anchor="end" fill="#111">0</text>
<line x1="39.7" y1="523.58" x2="42.1" y2="523.58" stroke="#000" stroke-width="0.8"/>
<text x="37.1" y="525.98" font-size="6.6" text-anchor="end" fill="#111">10</text>
<line x1="39.7" y1="509.15" x2="42.1" y2="509.15" stroke="#000" stroke-width="0.8"/>
<text x="37.1" y="511.55" font-size="6.6" text-anchor="end" fill="#111">20</text>
<line x1="39.7" y1="494.73" x2="42.1" y2="494.73" stroke="#000" stroke-width="0.8"/>
<text x="37.1" y="497.12" font-size="6.6" text-anchor="end" fill="#111">30</text>
<line x1="39.7" y1="480.3" x2="42.1" y2="480.3" stroke="#000" stroke-width="0.8"/>
<text x="37.1" y="482.7" font-size="6.6" text-anchor="end" fill="#111">40</text>
<line x1="39.7" y1="465.88" x2="42.1" y2="465.88" stroke="#000" stroke-width="0.8"/>
<text x="37.1" y="468.27" font-size="6.6" text-anchor="end" fill="#111">50</text>
<line x1="39.7" y1="451.45" x2="42.1" y2="451.45" stroke="#000" stroke-width="0.8"/>
<text x="37.1" y="453.85" font-size="6.6" text-anchor="end" fill="#111">60</text>
<line x1="39.7" y1="437.03" x2="42.1" y2="437.03" stroke="#000" stroke-width="0.8"/>
<text x="37.1" y="439.43" font-size="6.6" text-anchor="end" fill="#111">70</text>
<line x1="39.7" y1="422.6" x2="42.1" y2="422.6" stroke="#000" stroke-width="0.8"/>
<text x="37.1" y="425" font-size="6.6" text-anchor="end" fill="#111">80</text>
<rect x="70.4" y="431.25" width="38.1" height="106.75" fill="#000"/>
<line x1="89.45" y1="429.38" x2="89.45" y2="431.25" stroke="#000" stroke-width="0.8"/>
<line x1="87.65" y1="429.38" x2="91.25" y2="429.38" stroke="#000" stroke-width="0.8"/>
<rect x="165.1" y="478.14" width="38.6" height="59.86" fill="#000"/>
<line x1="184.4" y1="476.55" x2="184.4" y2="478.14" stroke="#000" stroke-width="0.8"/>
<line x1="182.6" y1="476.55" x2="186.2" y2="476.55" stroke="#000" stroke-width="0.8"/>
<text x="89.6" y="551" font-size="7.6" text-anchor="middle" fill="#111">prMC-1</text>
<text x="184.4" y="551" font-size="7.6" text-anchor="middle" fill="#111">prMC-2</text>
<text transform="translate(25 479.6) rotate(-90)" x="0" y="0" font-size="7.7" text-anchor="middle" fill="#111">HIV p24 pg/mmL</text>
<line x1="282.3" y1="282.9" x2="282.3" y2="426.9" stroke="#000" stroke-width="1.3"/>
<line x1="281.7" y1="426.3" x2="475.8" y2="426.3" stroke="#000" stroke-width="1.4"/>
<line x1="280.1" y1="426.3" x2="282.3" y2="426.3" stroke="#000" stroke-width="0.8"/>
<text x="278.7" y="428.4" font-size="6" text-anchor="end" fill="#111">0</text>
<line x1="280.1" y1="405.81" x2="282.3" y2="405.81" stroke="#000" stroke-width="0.8"/>
<text x="278.7" y="407.91" font-size="6" text-anchor="end" fill="#111">100,000</text>
<line x1="280.1" y1="385.33" x2="282.3" y2="385.33" stroke="#000" stroke-width="0.8"/>
<text x="278.7" y="387.43" font-size="6" text-anchor="end" fill="#111">200,000</text>
<line x1="280.1" y1="364.84" x2="282.3" y2="364.84" stroke="#000" stroke-width="0.8"/>
<text x="278.7" y="366.94" font-size="6" text-anchor="end" fill="#111">300,000</text>
<line x1="280.1" y1="344.36" x2="282.3" y2="344.36" stroke="#000" stroke-width="0.8"/>
<text x="278.7" y="346.46" font-size="6" text-anchor="end" fill="#111">400,000</text>
<line x1="280.1" y1="323.87" x2="282.3" y2="323.87" stroke="#000" stroke-width="0.8"/>
<text x="278.7" y="325.97" font-size="6" text-anchor="end" fill="#111">500,000</text>
<line x1="280.1" y1="303.39" x2="282.3" y2="303.39" stroke="#000" stroke-width="0.8"/>
<text x="278.7" y="305.49" font-size="6" text-anchor="end" fill="#111">600,000</text>
<line x1="280.1" y1="282.9" x2="282.3" y2="282.9" stroke="#000" stroke-width="0.8"/>
<text x="278.7" y="285" font-size="6" text-anchor="end" fill="#111">700,000</text>
<line x1="346.5" y1="426.3" x2="346.5" y2="428.7" stroke="#000" stroke-width="0.8"/>
<line x1="411.2" y1="426.3" x2="411.2" y2="428.7" stroke="#000" stroke-width="0.8"/>
<line x1="475.8" y1="426.3" x2="475.8" y2="428.7" stroke="#000" stroke-width="0.8"/>
<rect x="360.5" y="339.03" width="18.7" height="87.27" fill="#000"/>
<rect x="379.7" y="298.35" width="18.2" height="127.95" fill="#c0c0c0" stroke="#808080" stroke-width="0.9"/>
<rect x="424.1" y="327" width="3.7" height="3.7" fill="#000"/>
<rect x="424.5" y="335.9" width="3" height="3" fill="#c0c0c0" stroke="#808080" stroke-width="0.8"/>
<text x="429.8" y="330.9" font-size="6" fill="#111">FLmRNA</text>
<text x="429.8" y="339.6" font-size="6" fill="#111">MSmRNA</text>
<text x="315" y="439.3" font-size="9.5" text-anchor="middle" fill="#000">MC+Media</text>
<text x="380.4" y="439.3" font-size="9.5" text-anchor="middle" fill="#000">MC+IgE+SA</text>
<text x="443.1" y="439.3" font-size="9.5" text-anchor="middle" fill="#000">No Virus</text>
<text transform="translate(251.6 351.5) rotate(-90)" x="0" y="0" font-size="7.75" text-anchor="middle" fill="#111">Fold Increase in HIV mRNA Expression</text>
</svg></body></html>
